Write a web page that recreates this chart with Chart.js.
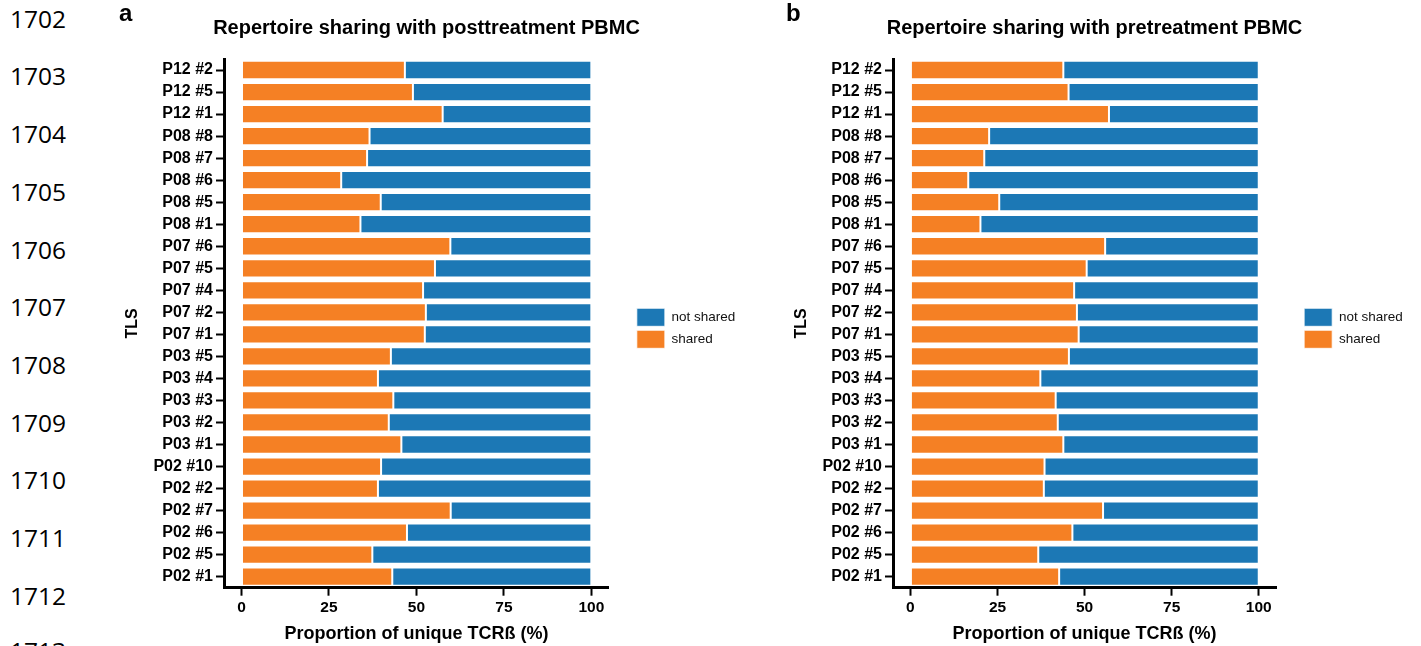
<!DOCTYPE html>
<html>
<head>
<meta charset="utf-8">
<script src="https://cdn.jsdelivr.net/npm/chart.js@4.4.1/dist/chart.umd.min.js"></script>
<style>
  html, body { margin: 0; padding: 0; background: #fff; }
  body { width: 1421px; height: 646px; position: relative; overflow: hidden; }
  .ln { position: absolute; left: 10px; font-family: 'Open Sans', sans-serif; font-size: 24.5px; line-height: 1; color: #000; }
  .tag { position: absolute; top: 1px; font-family: 'Liberation Sans', Arial, sans-serif; font-weight: bold; font-size: 24px; line-height: 1; color: #000; }
  canvas { position: absolute; top: 0; }
</style>
</head>
<body>
<div id="lines"></div>
<canvas id="chartA" width="619" height="646" style="left:117px"></canvas>
<canvas id="chartB" width="617" height="646" style="left:786px"></canvas>
<div class="tag" style="left:119px">a</div>
<div class="tag" style="left:786px">b</div>
<script>
var categories = ["P12 #2", "P12 #5", "P12 #1", "P08 #8", "P08 #7", "P08 #6", "P08 #5", "P08 #1",
  "P07 #6", "P07 #5", "P07 #4", "P07 #2", "P07 #1", "P03 #5", "P03 #4", "P03 #3", "P03 #2", "P03 #1",
  "P02 #10", "P02 #2", "P02 #7", "P02 #6", "P02 #5", "P02 #1"];

// a: posttreatment PBMC
var sharedPost    = [46.7, 49.0, 57.5, 36.6, 35.9, 28.5, 39.8, 34.0, 59.7, 55.3, 51.9, 52.7, 52.4, 42.7, 39.0, 43.4, 42.1, 45.7, 39.9, 39.0, 59.8, 47.3, 37.4, 43.1];
var notSharedPost = [53.3, 51.0, 42.5, 63.4, 64.1, 71.5, 60.2, 66.0, 40.3, 44.7, 48.1, 47.3, 47.6, 57.3, 61.0, 56.6, 57.9, 54.3, 60.1, 61.0, 40.2, 52.7, 62.6, 56.9];

// b: pretreatment PBMC
var sharedPre     = [43.9, 45.4, 57.0, 22.6, 21.2, 16.6, 25.5, 20.1, 55.9, 50.6, 47.0, 47.8, 48.3, 45.5, 37.3, 41.7, 42.3, 43.9, 38.5, 38.3, 55.3, 46.5, 36.7, 42.7];
var notSharedPre  = [56.1, 54.6, 43.0, 77.4, 78.8, 83.4, 74.5, 79.9, 44.1, 49.4, 53.0, 52.2, 51.7, 54.5, 62.7, 58.3, 57.7, 56.1, 61.5, 61.7, 44.7, 53.5, 63.3, 57.3];

var xTicks = [0, 25, 50, 75, 100];
var seriesNames = ["shared", "not shared"];
var lineNumbers = [1702, 1703, 1704, 1705, 1706, 1707, 1708, 1709, 1710, 1711, 1712, 1713];

// manuscript line numbers down the left margin
var lines = document.getElementById('lines');
lineNumbers.forEach(function(n, i) {
  var d = document.createElement('div');
  d.className = 'ln';
  var cy = i < 11 ? 19.7 + 57.7 * i : 652;
  d.style.top = (cy - 13) + 'px';
  d.textContent = n;
  lines.appendChild(d);
});

Chart.defaults.font.family = "'Liberation Sans', Arial, sans-serif";
Chart.defaults.color = '#000';

function axisTicks(scale) {
  scale.ticks = xTicks.map(function(v) { return { value: v }; });
}

function makeChart(id, title, shared, notShared) {
  var ctx = document.getElementById(id).getContext('2d');
  return new Chart(ctx, {
    type: 'bar',
    data: {
      labels: categories,
      datasets: [
        {
          label: seriesNames[0],
          data: shared,
          backgroundColor: '#f58024',
          borderColor: 'rgba(255,255,255,0.8)',
          borderWidth: 1,
          borderSkipped: false,
          barPercentage: 0.83,
          categoryPercentage: 1,
          yAxisID: 'y'
        },
        {
          label: seriesNames[1],
          data: notShared,
          backgroundColor: '#1c78b5',
          borderColor: 'rgba(255,255,255,0.8)',
          borderWidth: 1,
          borderSkipped: false,
          barPercentage: 0.83,
          categoryPercentage: 1,
          yAxisID: 'y'
        }
      ]
    },
    options: {
      indexAxis: 'y',
      responsive: false,
      animation: false,
      layout: { padding: { top: 10.6, bottom: 0, left: 0, right: 0 } },
      plugins: {
        title: {
          display: true,
          text: title,
          color: '#000',
          font: { size: 20, weight: 'bold' },
          padding: { top: 5.4, bottom: 19 }
        },
        legend: {
          position: 'right',
          reverse: true,
          labels: {
            boxWidth: 28,
            boxHeight: 18,
            padding: 4,
            color: '#111',
            font: { size: 13.5 }
          }
        },
        tooltip: { enabled: false }
      },
      scales: {
        x: {
          stacked: true,
          min: -5,
          max: 105,
          afterBuildTicks: axisTicks,
          afterFit: function(s) { s.height = 58.3; },
          grid: { drawOnChartArea: false, drawTicks: true, tickLength: 8, tickWidth: 2, tickColor: '#000' },
          border: { display: true, width: 3, color: '#000' },
          ticks: { font: { size: 15.5, weight: 'bold' }, padding: 3 },
          title: {
            display: true,
            text: 'Proportion of unique TCRß (%)',
            font: { size: 18, weight: 'bold' },
            padding: { top: 0, bottom: 1.2 }
          }
        },
        y: {
          stacked: true,
          afterFit: function(s) { s.width = 107; },
          grid: { offset: false, drawOnChartArea: false, drawTicks: true, tickLength: 8, tickWidth: 2, tickColor: '#000' },
          border: { display: true, width: 3, color: '#000' },
          ticks: { font: { size: 16, weight: 'bold' }, padding: 3, autoSkip: false },
          title: {
            display: true,
            text: 'TLS',
            font: { size: 16, weight: 'bold' },
            padding: { top: 5.9, bottom: 0 }
          }
        },
        gap: {
          type: 'linear',
          position: 'right',
          display: true,
          grid: { display: false },
          border: { display: false },
          ticks: { display: false },
          afterFit: function(s) { s.width = 24; }
        }
      }
    }
  });
}

makeChart('chartA', 'Repertoire sharing with posttreatment PBMC', sharedPost, notSharedPost);
makeChart('chartB', 'Repertoire sharing with pretreatment PBMC', sharedPre, notSharedPre);
</script>
</body>
</html>
